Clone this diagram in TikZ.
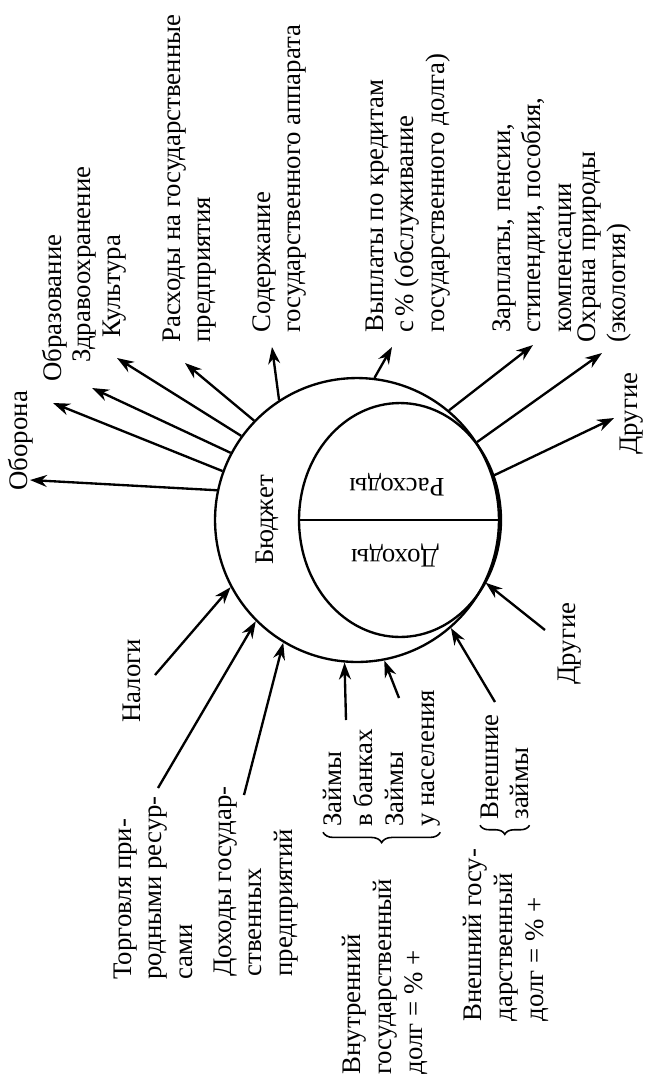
\documentclass[tikz,border=0pt]{standalone}
\usepackage{fontspec}
\setmainfont{Liberation Serif}
\usetikzlibrary{arrows.meta, positioning, shapes.geometric, decorations.pathreplacing}

\begin{document}
\begin{tikzpicture}[
    x=0.0135cm, y=-0.0135cm,
    lbl/.style={rotate=90, anchor=north west, align=left, inner sep=0pt,
                font=\fontsize{10.3}{11.8}\selectfont},
    flow/.style={-{Stealth[length=6.5pt, width=4.6pt]}, line width=0.9pt},
    brc/.style={decorate, decoration={brace, amplitude=4pt}, line width=0.6pt},
    >=Stealth
  ]
  \useasboundingbox (0,0) rectangle (646,1085);

  % Budget circle
  \node[draw, circle, line width=0.9pt, minimum size=3.834cm, inner sep=0pt] (budget) at (357,520) {};
  \node[draw, ellipse, line width=0.9pt, minimum width=2.727cm, minimum height=3.159cm,
        inner sep=0pt] (inner) at (400,520) {};
  \draw[line width=0.9pt] (inner.west) -- (inner.east);
  \node[rotate=90, font=\fontsize{10.3}{11.8}\selectfont] (budgettxt) at (267,520) {Бюджет};
  \node[rotate=180, font=\fontsize{10.3}{11.8}\selectfont] (rashtxt) at (397,485) {Расходы};
  \node[rotate=180, font=\fontsize{10.3}{11.8}\selectfont] (dohtxt) at (395,555) {Доходы};

  % Expenses
  \node[lbl] (oborona) at (8,491) {Оборона};
  \node[lbl] (obraz) at (42,382) {Образование};
  \node[lbl] (zdrav) at (72,363) {Здравоохранение};
  \node[lbl] (kult) at (102,338) {Культура};
  \node[lbl] (raspred) at (162,343) {Расходы на государственные\\предприятия};
  \node[lbl] (soderzh) at (252,333) {Содержание\\государственного аппарата};
  \node[lbl] (vyplaty) at (365,333) {Выплаты по кредитам\\с\,\% (обслуживание\\государственного долга)};
  \node[lbl] (zarpl) at (492,333) {Зарплаты, пенсии,\\стипендии, пособия,\\компенсации};
  \node[lbl] (ohrana) at (577,343) {Охрана природы\\(экология)};
  \node[lbl] (drugout) at (619,455) {Другие};

  \coordinate (t-oborona) at (30,480);
  \coordinate (t-obraz) at (53,403);
  \coordinate (t-zdrav) at (92,388);
  \coordinate (t-kult) at (117,358);
  \coordinate (t-raspred) at (185,363);
  \coordinate (t-soderzh) at (272,347);
  \coordinate (t-vyplaty) at (392,347);
  \coordinate (t-zarpl) at (533,345);
  \coordinate (t-ohrana) at (602,353);
  \coordinate (t-drugout) at (614,418);

  \draw[flow] (budget.168.2) -- (t-oborona);
  \draw[flow] (budget.160.8) -- (t-obraz);
  \draw[flow] (budget.152.2) -- (t-zdrav);
  \draw[flow] (budget.144.6) -- (t-kult);
  \draw[flow] (budget.136.7) -- (t-raspred);
  \draw[flow] (budget.123.8) -- (t-soderzh);
  \draw[flow] (budget.83.6) -- (t-vyplaty);
  \draw[flow] (budget.50.4) -- (t-zarpl);
  \draw[flow] (budget.33.7) -- (t-ohrana);
  \draw[flow] (budget.18.4) -- (t-drugout);

  % Revenues
  \node[lbl] (nalogi) at (122,723) {Налоги};
  \node[lbl] (torg) at (113,980) {Торговля при-\\родными ресур-\\сами};
  \node[lbl] (dohpred) at (213,977) {Доходы государ-\\ственных\\предприятий};
  \node[lbl] (zaimy) at (323,827) {Займы\\в банках\\Займы\\у населения};
  \node[lbl] (vnzaimy) at (480,820) {Внешние\\займы};
  \node[lbl] (vnutr) at (342,1075) {Внутренний\\государственный\\долг = \% +};
  \node[lbl] (vnesh) at (463,1022) {Внешний госу-\\дарственный\\долг = \% +};
  \node[lbl] (drugin) at (557,685) {Другие};

  \coordinate (f-nalogi) at (155,675);
  \coordinate (f-torg) at (158,788);
  \coordinate (f-dohpred) at (244,795);
  \coordinate (f-zbank) at (346,720);
  \coordinate (f-znas) at (399,698);
  \coordinate (f-vnzaimy) at (495,702);
  \coordinate (f-drugin) at (545,630);

  \draw[flow] (f-nalogi) -- (budget.208.2);
  \draw[flow] (f-torg) -- (budget.225.8);
  \draw[flow] (f-dohpred) -- (budget.239.9);
  \draw[flow] (f-zbank) -- (budget.265);
  \draw[flow] (f-znas) -- (budget.281);
  \draw[flow] (f-vnzaimy) -- (budget.311.1);
  \draw[flow] (f-drugin) -- (budget.334.1);

  % Braces
  \draw[brc] ([yshift=-2pt]zaimy.south west) -- ([yshift=-2pt]zaimy.north west);
  \draw[brc, decoration={amplitude=3.5pt}] ([yshift=-2pt]vnzaimy.south west) -- ([yshift=-2pt]vnzaimy.north west);

\end{tikzpicture}
\end{document}
